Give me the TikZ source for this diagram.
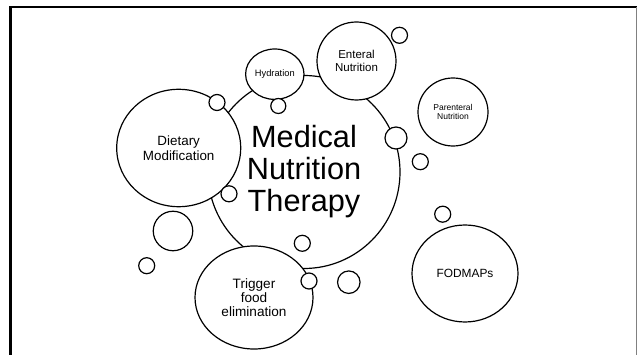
\documentclass[tikz,border=0pt]{standalone}
\usepackage{fontspec}
\setmainfont{Liberation Sans}
\usetikzlibrary{shapes.geometric}
\begin{document}
\begin{tikzpicture}[x=1pt,y=-1pt,
  bub/.style={draw=black, line width=1.2pt, fill=white, ellipse, inner sep=0pt, outer sep=0pt, align=center, text=black},
  dot/.style={draw=black, line width=1.2pt, fill=white, circle, inner sep=0pt, outer sep=0pt},
  frameline/.style={line width=2.3pt, black},
]
\useasboundingbox (0,0) rectangle (637,355);
\fill[white] (0,0) rectangle (637,355);
% slide frame
\draw[frameline] (10.5,360) -- (10.5,7) -- (640,7);
\draw[gray, line width=1pt] (636,7.5) -- (636,360);
% central bubble
\node[bub, minimum width=192pt, minimum height=193pt, font=\fontsize{30.7}{32}\selectfont] (mnt) at (304,172) {Medical\\Nutrition\\Therapy};
% satellite bubbles
\node[bub, minimum width=124pt, minimum height=117.4pt, font=\fontsize{13.4}{15.3}\selectfont] (diet) at (178.7,148) {Dietary\\Modification};
\node[bub, minimum width=58.4pt, minimum height=50.4pt, font=\fontsize{9.3}{10.5}\selectfont] (hyd) at (274.8,74.2) {Hydration};
\node[bub, minimum width=79pt, minimum height=78pt, font=\fontsize{11.5}{12.3}\selectfont] (ent) at (356.5,61) {Enteral\\Nutrition};
\node[bub, minimum width=70pt, minimum height=68pt, font=\fontsize{8.5}{9.3}\selectfont] (par) at (453,112) {Parenteral\\Nutrition};
\node[bub, minimum width=106pt, minimum height=97pt, font=\fontsize{11.9}{13}\selectfont] (fod) at (465,273.5) {FODMAPs};
\node[bub, minimum width=118pt, minimum height=103pt, font=\fontsize{13.6}{14.3}\selectfont] (trig) at (254,297.5) {Trigger\\food\\elimination};
% small bubbles
\node[dot, minimum size=16pt] (s1) at (217,102.5) {};
\node[dot, minimum size=15pt] (s2) at (278.3,106) {};
\node[dot, minimum size=16pt] (s3) at (399.5,35.3) {};
\node[dot, minimum size=22pt] (s4) at (396,138) {};
\node[dot, minimum size=16pt] (s5) at (420.3,161.7) {};
\node[dot, minimum size=16pt] (s6) at (229,193.8) {};
\node[dot, minimum size=16pt] (s7) at (302.3,243.3) {};
\node[dot, minimum size=39.5pt] (s8) at (173,231) {};
\node[dot, minimum size=16pt] (s9) at (146.7,265.7) {};
\node[dot, minimum size=16pt] (s10) at (309,281) {};
\node[dot, minimum size=22.5pt] (s11) at (348.8,282.2) {};
\node[dot, minimum size=16pt] (s12) at (442.7,214.2) {};
\end{tikzpicture}
\end{document}
